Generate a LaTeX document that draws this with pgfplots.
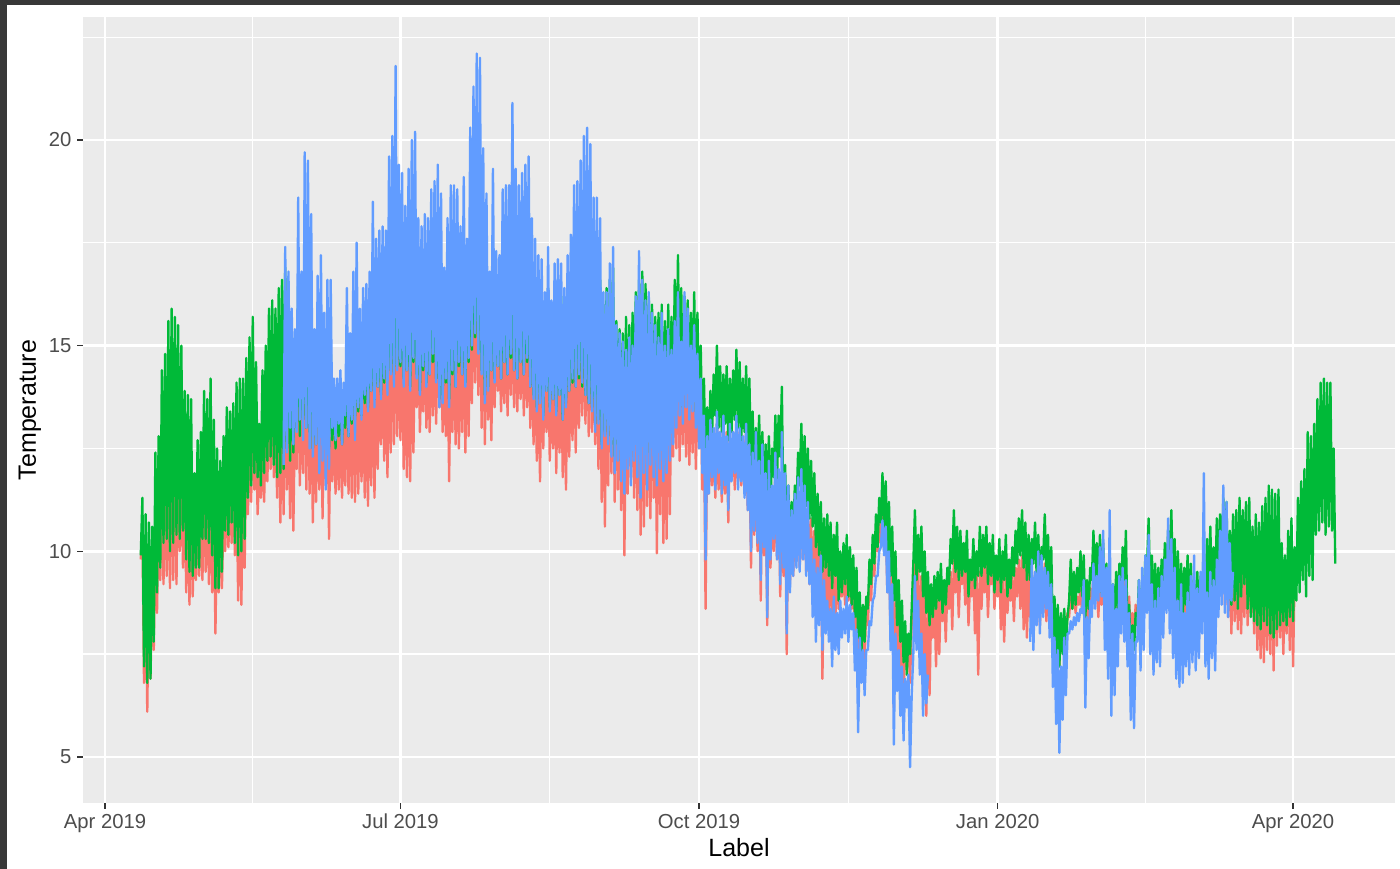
\documentclass[border=0pt]{standalone}
\usepackage{pgfplots}
\pgfplotsset{compat=1.18}
\usepackage{fontspec}
\setmainfont{Liberation Sans}
\definecolor{ggred}{HTML}{F8766D}
\definecolor{gggreen}{HTML}{00BA38}
\definecolor{ggblue}{HTML}{619CFF}
\definecolor{ggpanel}{HTML}{EBEBEB}
\definecolor{ggticklab}{HTML}{4D4D4D}
\definecolor{ggtick}{HTML}{333333}
\definecolor{shotframe}{HTML}{383838}
\begin{document}
\begin{tikzpicture}
\useasboundingbox (0,0) rectangle (504pt,312.84pt);
\fill[shotframe] (0,0) rectangle (504pt,312.84pt);
\fill[white] (2.52pt,0) rectangle (504pt,311.04pt);
\begin{axis}[
  at={(29.88pt,23.76pt)}, anchor=south west,
  scale only axis, width=472.32pt, height=282.96pt,
  xmin=-6.8, xmax=397.4, ymin=3.88, ymax=22.99,
  axis background/.style={fill=ggpanel},
  axis line style={draw=none},
  tick pos=left,
  xtick={0,91,183,275,366},
  xticklabels={Apr 2019,Jul 2019,Oct 2019,Jan 2020,Apr 2020},
  minor xtick={45.5,137,229,320.5},
  ytick={5,10,15,20},
  yticklabels={5,10,15,20},
  minor ytick={7.5,12.5,17.5,22.5},
  grid=both,
  major grid style={white, line width=0.9pt},
  minor grid style={white, line width=0.45pt},
  tick align=outside,
  major tick length=2.16pt,
  minor tick length=0pt,
  tick style={ggtick, line width=0.5pt},
  /pgf/number format/assume math mode=true,
  tick label style={font=\fontsize{7.3}{8.8}\selectfont, text=ggticklab},
  xticklabel style={anchor=north, inner sep=0pt, yshift=-1.6pt},
  yticklabel style={anchor=east, inner sep=0pt, xshift=-1.8pt},
  xlabel={Label}, ylabel={Temperature},
  every axis x label/.style={at={([yshift=-16.2pt]axis description cs:0.5,0)}, anchor=center, font=\fontsize{9}{10.8}\selectfont},
  every axis y label/.style={at={([xshift=-19.1pt]axis description cs:0,0.5)}, anchor=center, rotate=90, font=\fontsize{9}{10.8}\selectfont},
  every axis plot/.append style={line width=0.85pt, line join=round, mark=none},
]
% red series: daily low/high pairs from day 11 (days since 1 Apr 2019)
\addplot[ggred] table[header=false, row sep=\\, x expr=11+0.5*\coordindex, y index=0] {
9.8\\10.6\\6.8\\9.5\\6.1\\9.3\\6.9\\9.2\\7.6\\10.4\\8.5\\10.9\\9.3\\11.8\\9.2\\12.2\\9.4\\12.6\\9.1\\12.9\\
9.3\\12.8\\9.2\\12.6\\10.0\\12.3\\9.6\\11.8\\9.0\\11.6\\8.7\\11.5\\8.9\\10.8\\9.3\\11.0\\9.4\\11.2\\9.3\\11.8\\
9.5\\11.6\\9.2\\11.9\\9.0\\11.3\\8.0\\10.9\\9.0\\10.7\\9.1\\11.0\\10.0\\11.6\\10.1\\11.5\\10.2\\11.7\\9.9\\12.0\\
8.8\\12.1\\8.7\\12.1\\9.6\\12.5\\10.9\\12.9\\11.2\\13.2\\11.5\\12.8\\10.9\\12.0\\11.3\\12.6\\11.2\\13.0\\11.7\\13.6\\
12.0\\13.9\\11.8\\13.6\\11.3\\14.0\\10.7\\14.1\\10.9\\14.3\\11.5\\14.0\\10.8\\13.6\\10.5\\13.4\\12.0\\14.8\\11.6\\14.2\\
11.9\\15.0\\11.5\\15.2\\11.4\\14.6\\10.7\\13.6\\11.2\\14.0\\11.5\\14.3\\10.8\\13.8\\11.6\\14.1\\10.3\\13.9\\11.7\\13.4\\
11.4\\13.3\\11.5\\13.5\\11.3\\13.2\\11.6\\14.2\\11.4\\13.8\\11.3\\14.4\\11.2\\14.7\\11.4\\14.1\\11.7\\14.3\\11.3\\14.2\\
11.1\\14.5\\11.6\\15.2\\11.3\\14.8\\12.0\\15.0\\12.6\\15.1\\12.2\\14.9\\11.8\\15.6\\12.4\\15.8\\12.6\\16.0\\12.8\\15.5\\
12.7\\15.4\\12.0\\15.0\\11.8\\15.3\\11.7\\15.6\\12.4\\15.5\\13.5\\15.0\\12.9\\14.8\\13.4\\15.2\\13.0\\15.0\\12.9\\15.3\\
13.3\\15.5\\13.1\\15.6\\13.5\\15.0\\12.9\\14.6\\12.8\\15.1\\11.7\\15.2\\12.9\\15.4\\12.6\\15.3\\12.5\\15.0\\12.9\\15.5\\
12.4\\15.2\\12.8\\15.9\\13.6\\16.4\\14.1\\17.0\\13.8\\16.8\\13.0\\16.0\\12.6\\15.3\\13.2\\14.9\\12.7\\15.6\\13.5\\15.2\\
13.9\\15.1\\13.4\\15.4\\13.6\\15.5\\13.3\\15.4\\13.8\\15.9\\13.5\\15.6\\13.4\\15.3\\13.7\\15.6\\13.3\\15.7\\13.5\\15.8\\
13.0\\15.3\\12.6\\15.0\\12.2\\14.8\\11.7\\14.9\\12.5\\14.6\\12.9\\15.0\\12.2\\14.5\\12.5\\14.8\\11.9\\14.9\\12.4\\14.8\\
11.8\\14.5\\11.5\\14.9\\12.3\\15.1\\12.7\\15.5\\12.4\\15.6\\13.0\\15.8\\13.3\\16.0\\13.1\\16.2\\12.8\\15.9\\12.9\\15.6\\
12.6\\15.5\\12.0\\15.3\\11.2\\14.8\\10.6\\14.9\\11.6\\15.1\\11.9\\15.3\\11.2\\14.4\\11.5\\14.2\\11.0\\14.0\\9.9\\14.3\\
11.4\\14.1\\11.8\\14.4\\11.3\\14.8\\11.0\\15.0\\10.4\\15.1\\10.6\\14.9\\11.1\\14.6\\10.8\\14.5\\11.3\\14.3\\9.95\\14.4\\
10.9\\14.6\\10.2\\14.2\\10.3\\14.5\\10.9\\14.3\\12.3\\14.9\\12.5\\15.1\\12.2\\14.8\\12.6\\14.7\\12.3\\14.6\\12.1\\14.4\\
12.4\\14.5\\12.0\\14.2\\12.5\\14.0\\11.5\\13.3\\8.6\\12.8\\11.4\\12.7\\11.6\\12.9\\11.3\\13.1\\11.5\\12.9\\11.2\\12.8\\
11.4\\12.9\\10.7\\12.7\\11.8\\12.9\\11.5\\13.0\\11.7\\12.9\\11.6\\12.8\\11.5\\12.9\\11.0\\12.6\\9.6\\12.2\\10.4\\12.4\\
10.0\\12.0\\8.8\\12.1\\9.9\\11.6\\8.2\\11.8\\9.6\\11.3\\10.0\\11.9\\9.8\\11.6\\8.9\\11.8\\9.4\\11.3\\7.5\\11.0\\
9.2\\10.8\\9.4\\11.0\\9.9\\11.4\\9.6\\11.6\\9.8\\11.3\\9.5\\11.0\\9.2\\10.8\\8.8\\10.5\\9.0\\10.3\\8.5\\10.2\\
6.9\\9.8\\8.6\\9.9\\8.4\\9.6\\8.5\\9.4\\8.4\\9.6\\8.6\\9.3\\8.9\\9.5\\8.7\\9.6\\8.8\\9.4\\8.6\\9.2\\
8.0\\8.9\\7.6\\8.6\\6.9\\8.3\\7.4\\8.6\\8.2\\9.3\\8.8\\9.9\\9.4\\10.4\\10.0\\10.7\\10.2\\10.9\\10.0\\10.8\\
9.0\\10.3\\7.8\\9.6\\6.2\\8.8\\7.5\\8.4\\7.0\\8.0\\6.6\\7.7\\7.2\\7.9\\6.8\\8.2\\8.8\\9.9\\8.3\\9.6\\
7.8\\9.4\\7.2\\9.1\\6.0\\8.8\\6.5\\8.6\\7.9\\9.0\\7.2\\8.9\\7.5\\9.1\\8.3\\9.0\\7.8\\9.2\\8.6\\9.5\\
8.1\\9.8\\9.0\\9.7\\8.4\\9.6\\9.2\\9.8\\8.7\\9.7\\8.2\\9.3\\8.9\\9.6\\8.0\\9.4\\7.0\\9.5\\8.6\\9.6\\
9.0\\9.8\\8.4\\9.5\\9.2\\9.8\\8.6\\9.4\\8.9\\9.6\\8.1\\9.3\\7.8\\9.5\\8.5\\9.2\\8.8\\9.4\\8.3\\9.6\\
8.9\\9.8\\8.6\\9.9\\8.1\\9.7\\7.9\\9.5\\8.4\\9.4\\8.0\\9.5\\8.6\\9.6\\8.2\\9.3\\8.5\\9.7\\8.3\\9.4\\
8.6\\9.2\\7.8\\8.6\\7.4\\8.3\\7.2\\8.2\\7.6\\8.4\\7.9\\8.5\\8.4\\9.0\\8.6\\9.0\\8.5\\8.9\\8.7\\9.1\\
8.5\\9.0\\8.3\\9.0\\8.1\\9.1\\8.6\\9.5\\8.8\\9.4\\8.4\\9.3\\8.7\\9.5\\8.3\\9.2\\8.0\\9.0\\8.2\\8.9\\
8.5\\9.1\\8.4\\9.2\\8.8\\9.4\\8.9\\9.6\\7.9\\8.9\\7.6\\8.5\\8.0\\8.7\\8.3\\9.0\\8.2\\9.1\\8.5\\9.3\\
8.9\\9.7\\8.6\\9.4\\8.3\\9.2\\8.2\\9.1\\8.4\\9.3\\8.8\\9.5\\8.9\\9.8\\9.0\\9.9\\8.6\\9.6\\8.4\\9.3\\
8.2\\9.1\\8.1\\9.0\\8.4\\9.2\\8.3\\9.1\\8.0\\8.9\\8.2\\9.2\\8.1\\9.3\\8.4\\9.5\\8.7\\9.8\\8.5\\10.0\\
8.9\\9.9\\8.6\\10.1\\9.0\\10.2\\9.1\\10.4\\8.7\\10.3\\8.4\\10.0\\8.0\\10.2\\8.3\\10.0\\8.1\\10.2\\8.0\\10.0\\
8.4\\10.3\\8.2\\10.1\\8.5\\9.8\\8.0\\10.0\\7.6\\9.8\\7.4\\10.1\\7.3\\10.3\\7.6\\10.4\\7.5\\10.2\\7.1\\10.3\\
7.7\\10.2\\7.9\\9.6\\7.5\\9.4\\8.0\\9.8\\7.6\\10.0\\7.2\\9.6\\
};
% green series
\addplot[gggreen] table[header=false, row sep=\\, x expr=11+0.5*\coordindex, y index=0] {
9.9\\11.3\\7.2\\10.9\\6.8\\10.7\\6.9\\10.6\\7.8\\12.4\\9.0\\12.8\\9.6\\14.4\\10.2\\14.8\\10.3\\15.6\\10.0\\15.9\\
10.2\\15.7\\10.4\\15.5\\10.3\\15.0\\10.5\\13.9\\9.8\\13.8\\9.5\\13.7\\9.4\\11.9\\9.6\\12.7\\9.6\\12.9\\10.3\\13.9\\
10.3\\13.7\\10.2\\14.2\\9.9\\13.2\\9.1\\12.5\\9.1\\12.2\\9.5\\12.8\\10.5\\13.5\\10.4\\13.4\\10.7\\13.6\\10.2\\14.1\\
9.9\\14.2\\10.0\\14.2\\10.3\\14.7\\11.3\\15.2\\11.6\\15.7\\11.9\\14.6\\11.8\\13.1\\11.6\\14.4\\11.9\\15.0\\12.2\\15.9\\
12.3\\16.1\\12.1\\15.9\\11.8\\16.4\\11.9\\16.6\\12.0\\16.9\\12.5\\16.3\\12.2\\15.4\\12.4\\15.0\\13.0\\16.5\\12.8\\15.8\\
13.2\\16.4\\13.0\\16.6\\12.9\\16.0\\12.5\\14.8\\12.6\\15.3\\12.8\\15.6\\12.6\\14.9\\12.9\\15.2\\12.5\\15.0\\12.7\\14.0\\
12.5\\13.9\\12.8\\14.1\\12.6\\13.9\\13.0\\15.0\\12.8\\14.6\\13.1\\15.2\\13.2\\15.6\\13.4\\15.0\\13.3\\15.4\\13.6\\15.5\\
13.5\\15.7\\13.9\\16.3\\13.7\\15.9\\14.0\\16.0\\13.8\\15.9\\14.1\\15.8\\14.2\\16.6\\14.4\\16.9\\14.3\\17.2\\14.5\\16.8\\
14.5\\16.9\\14.2\\16.5\\14.4\\17.0\\14.0\\17.3\\14.6\\17.1\\14.3\\16.4\\13.9\\16.2\\14.4\\16.6\\14.1\\16.5\\14.3\\16.9\\
14.6\\17.0\\14.2\\17.2\\13.7\\16.6\\13.8\\15.9\\14.1\\16.5\\13.7\\16.8\\14.3\\17.0\\14.0\\16.9\\14.5\\16.6\\14.3\\17.1\\
14.1\\16.7\\14.6\\17.6\\14.9\\18.0\\15.2\\18.5\\14.9\\18.4\\14.4\\17.5\\13.8\\16.9\\14.0\\16.2\\14.4\\17.2\\14.2\\16.6\\
14.5\\16.5\\14.2\\17.0\\14.6\\17.1\\14.3\\17.0\\14.7\\17.6\\14.4\\17.2\\14.2\\16.9\\14.6\\17.2\\14.3\\17.3\\14.6\\17.4\\
14.0\\16.8\\13.8\\16.5\\13.5\\16.2\\13.7\\16.3\\13.3\\15.9\\13.9\\16.4\\13.5\\15.8\\13.7\\16.2\\13.4\\16.3\\13.8\\16.2\\
13.2\\15.9\\13.6\\16.4\\13.9\\16.6\\14.1\\17.2\\14.0\\17.3\\14.2\\17.4\\14.0\\17.6\\13.8\\17.5\\13.6\\17.2\\13.5\\16.9\\
13.1\\16.8\\13.2\\16.6\\12.6\\16.0\\12.9\\16.4\\12.8\\16.6\\12.6\\16.9\\12.3\\15.6\\12.6\\15.4\\12.2\\15.3\\12.0\\15.7\\
12.5\\15.5\\12.3\\15.8\\12.8\\16.3\\12.5\\16.6\\12.2\\16.8\\12.7\\16.5\\12.4\\16.2\\12.8\\16.0\\12.6\\15.7\\12.4\\15.8\\
12.9\\16.0\\12.6\\15.6\\12.8\\16.0\\13.0\\15.7\\13.3\\16.6\\13.6\\17.2\\13.8\\16.4\\13.5\\16.2\\13.9\\16.1\\13.6\\15.8\\
13.8\\16.3\\13.4\\15.8\\13.6\\15.0\\12.8\\14.2\\12.1\\13.5\\12.5\\13.9\\12.8\\14.3\\13.3\\15.0\\13.0\\14.5\\12.9\\14.3\\
13.1\\14.5\\12.7\\14.2\\12.9\\14.4\\13.2\\14.9\\13.0\\14.6\\12.7\\14.2\\12.9\\14.5\\12.6\\14.2\\12.0\\13.4\\11.6\\13.0\\
11.9\\13.3\\11.5\\12.9\\11.2\\12.6\\11.4\\12.8\\11.1\\12.5\\11.8\\13.3\\11.7\\13.3\\12.3\\14.0\\10.7\\12.1\\10.3\\11.6\\
10.0\\11.2\\10.3\\11.6\\11.0\\12.4\\11.6\\13.1\\11.4\\12.8\\11.1\\12.5\\10.8\\12.2\\10.6\\11.9\\10.1\\11.4\\9.9\\11.2\\
9.5\\10.8\\9.6\\10.9\\9.4\\10.7\\9.1\\10.4\\9.4\\10.7\\8.8\\10.0\\9.0\\10.2\\9.2\\10.4\\8.9\\10.1\\8.7\\9.9\\
8.4\\9.6\\7.9\\9.0\\7.5\\8.7\\7.8\\8.9\\8.6\\9.8\\9.2\\10.4\\9.7\\10.9\\10.1\\11.3\\10.7\\11.9\\10.5\\11.7\\
10.0\\11.2\\9.4\\10.6\\8.8\\10.0\\8.2\\9.3\\7.8\\8.8\\7.3\\8.3\\7.0\\8.0\\7.5\\8.6\\9.7\\11.0\\9.3\\10.4\\
9.5\\10.6\\8.9\\10.0\\8.5\\9.5\\8.2\\9.2\\8.4\\9.4\\8.6\\9.5\\8.8\\9.7\\8.5\\9.3\\8.7\\9.6\\9.2\\10.3\\
9.7\\11.0\\9.5\\10.6\\9.3\\10.5\\9.4\\10.2\\9.5\\10.5\\8.9\\9.8\\9.3\\10.3\\9.1\\10.0\\9.4\\10.6\\9.4\\10.4\\
9.6\\10.6\\9.2\\10.2\\9.4\\10.4\\9.0\\9.9\\9.3\\10.3\\9.0\\10.0\\9.3\\10.4\\8.9\\9.8\\9.1\\10.1\\9.4\\10.5\\
9.7\\10.8\\9.9\\11.0\\9.6\\10.7\\9.3\\10.4\\9.3\\10.3\\9.7\\10.7\\9.4\\10.4\\9.1\\10.1\\9.8\\10.9\\9.4\\10.4\\
8.9\\10.1\\7.8\\8.9\\7.4\\8.7\\7.2\\8.5\\7.5\\8.6\\7.7\\8.4\\8.8\\9.8\\8.6\\9.5\\8.7\\9.6\\9.0\\10.0\\
8.9\\9.9\\8.4\\9.3\\8.6\\9.6\\9.3\\10.5\\9.0\\10.2\\9.2\\10.4\\9.0\\10.2\\8.6\\9.7\\8.3\\9.4\\8.1\\9.2\\
8.4\\9.5\\8.6\\9.7\\9.0\\10.1\\9.3\\10.5\\7.8\\8.7\\7.4\\8.2\\7.6\\8.5\\8.2\\9.3\\8.0\\9.1\\8.8\\9.9\\
9.6\\10.8\\8.8\\9.9\\8.6\\9.7\\8.5\\9.6\\8.7\\9.8\\9.0\\10.2\\9.3\\10.5\\9.7\\11.0\\9.1\\10.3\\8.8\\10.0\\
8.5\\9.7\\8.4\\9.6\\8.7\\9.9\\8.5\\9.7\\8.1\\9.3\\8.3\\9.5\\8.2\\9.4\\8.5\\9.7\\8.8\\10.3\\8.7\\10.6\\
8.9\\10.1\\9.0\\10.8\\9.2\\10.9\\9.4\\11.3\\9.0\\11.2\\8.8\\10.5\\8.7\\10.9\\8.8\\11.0\\8.6\\11.3\\8.9\\11.0\\
9.2\\11.2\\8.6\\11.3\\8.4\\10.6\\8.3\\10.9\\8.2\\10.7\\8.1\\11.1\\8.3\\11.3\\8.2\\11.6\\8.0\\11.5\\7.9\\11.4\\
8.1\\11.5\\8.2\\10.2\\8.3\\9.9\\8.2\\10.5\\8.4\\10.8\\8.3\\10.1\\8.8\\11.3\\9.0\\11.7\\9.3\\12.0\\8.9\\12.9\\
9.4\\12.8\\9.3\\13.1\\10.4\\13.7\\10.5\\14.1\\10.7\\14.2\\10.4\\14.1\\10.6\\14.1\\10.5\\12.5\\9.7\\
};
% blue series, first stretch (day 55 to day 253)
\addplot[ggblue] table[header=false, row sep=\\, x expr=55+0.5*\coordindex, y index=0] {
12.1\\17.4\\12.4\\16.8\\13.0\\15.9\\12.6\\15.4\\12.9\\18.6\\13.2\\16.8\\
12.7\\19.7\\13.0\\19.5\\12.5\\18.2\\12.3\\15.4\\12.6\\16.7\\11.9\\17.2\\12.2\\15.8\\11.5\\16.6\\12.0\\16.6\\13.0\\14.2\\
12.7\\14.2\\13.1\\14.4\\12.6\\14.1\\13.3\\16.4\\12.8\\15.3\\13.2\\16.8\\12.7\\17.5\\13.5\\15.9\\13.2\\16.4\\13.8\\16.5\\
13.4\\16.8\\13.9\\18.5\\13.5\\17.6\\14.0\\17.8\\13.7\\17.9\\14.2\\17.8\\13.8\\19.6\\14.3\\20.1\\14.0\\21.8\\14.4\\19.4\\
14.6\\19.2\\14.0\\18.4\\14.4\\19.3\\13.9\\20.0\\14.7\\20.2\\14.2\\18.1\\13.8\\17.9\\14.5\\18.2\\14.0\\18.1\\14.3\\18.8\\
14.8\\19.0\\14.1\\19.4\\13.5\\18.7\\13.6\\16.9\\14.2\\18.1\\13.5\\18.9\\14.4\\18.9\\14.0\\18.8\\14.6\\17.9\\14.3\\19.1\\
14.0\\17.6\\14.7\\20.3\\15.0\\21.3\\15.3\\22.1\\14.8\\22.0\\14.3\\19.8\\13.6\\18.7\\13.9\\16.8\\14.4\\19.3\\14.1\\17.3\\
14.5\\17.2\\14.2\\18.8\\14.6\\18.9\\14.3\\18.9\\14.8\\20.9\\14.4\\19.3\\14.2\\18.9\\14.6\\19.2\\14.3\\19.4\\14.7\\19.6\\
14.0\\18.1\\13.7\\17.6\\13.4\\17.2\\13.6\\17.1\\13.2\\16.3\\13.9\\17.4\\13.4\\16.1\\13.7\\17.0\\13.3\\17.1\\13.8\\17.0\\
13.2\\16.4\\13.5\\17.2\\13.9\\17.7\\14.2\\18.9\\14.0\\19.0\\14.3\\19.5\\14.1\\20.1\\13.8\\20.3\\13.6\\19.9\\13.4\\18.6\\
12.9\\18.6\\13.1\\18.1\\12.5\\16.3\\12.8\\16.3\\12.6\\17.0\\12.3\\17.4\\11.9\\15.5\\12.2\\15.3\\11.7\\15.1\\11.4\\14.9\\
12.0\\15.2\\11.6\\15.0\\12.2\\16.2\\11.8\\17.3\\11.3\\16.6\\11.9\\16.1\\11.5\\16.3\\12.1\\15.8\\11.8\\15.5\\11.6\\15.2\\
12.0\\15.8\\11.7\\15.0\\11.9\\15.4\\12.2\\14.9\\12.6\\15.6\\13.0\\16.3\\13.3\\15.1\\13.1\\16.3\\13.5\\15.9\\13.2\\15.0\\
13.4\\15.5\\13.0\\14.8\\12.5\\14.2\\11.9\\13.3\\9.8\\12.8\\11.4\\13.2\\11.8\\13.0\\11.5\\13.4\\11.9\\12.9\\11.4\\13.3\\
11.6\\12.8\\11.0\\13.1\\11.7\\12.9\\11.9\\13.3\\11.5\\13.0\\11.7\\12.8\\11.3\\13.1\\11.0\\12.6\\10.0\\12.4\\10.5\\12.9\\
10.2\\12.2\\9.3\\12.6\\10.1\\11.9\\8.4\\12.2\\9.8\\11.6\\10.3\\12.4\\9.8\\12.0\\9.2\\12.9\\9.6\\11.9\\8.0\\11.6\\
9.0\\11.0\\9.4\\11.4\\9.6\\11.8\\9.5\\12.0\\9.8\\11.6\\9.4\\11.2\\9.2\\10.3\\8.4\\9.8\\7.8\\9.6\\8.2\\9.9\\
7.6\\9.3\\8.0\\8.8\\7.8\\8.6\\7.2\\8.9\\7.6\\8.5\\7.5\\8.8\\7.9\\8.6\\8.0\\8.9\\7.8\\8.7\\8.1\\8.5\\
7.1\\8.1\\5.6\\7.9\\6.8\\7.6\\6.5\\7.6\\7.6\\8.3\\8.2\\8.8\\8.9\\9.4\\9.4\\10.0\\10.1\\10.75\\9.9\\10.6\\
9.0\\10.0\\7.6\\9.2\\5.3\\8.0\\6.6\\7.6\\6.0\\7.2\\5.4\\6.9\\6.2\\7.0\\4.75\\6.5\\7.5\\9.4\\7.6\\8.8\\
7.0\\8.0\\6.0\\7.5\\6.3\\7.0\\
};
% blue series, second stretch (day 285 to day 347)
\addplot[ggblue] table[header=false, row sep=\\, x expr=285+0.5*\coordindex, y index=0] {
7.8\\9.8\\7.6\\9.5\\8.2\\10.0\\8.0\\9.9\\8.4\\9.6\\8.6\\9.5\\
7.9\\9.2\\6.7\\7.9\\5.8\\7.6\\5.1\\7.2\\5.9\\7.9\\6.5\\8.0\\8.0\\8.3\\8.1\\8.4\\8.2\\8.5\\8.3\\8.6\\
8.5\\9.3\\6.2\\8.4\\7.4\\8.8\\8.4\\9.7\\8.6\\9.4\\8.8\\10.1\\8.9\\10.5\\7.6\\9.6\\6.9\\11.0\\6.0\\9.2\\
6.5\\8.6\\7.2\\9.4\\8.0\\9.6\\7.8\\9.3\\7.2\\8.5\\5.9\\8.0\\5.7\\7.8\\7.8\\9.3\\7.1\\9.6\\7.6\\9.9\\
8.5\\10.4\\7.5\\9.2\\7.0\\8.8\\7.3\\9.1\\7.2\\9.4\\7.9\\9.8\\8.5\\10.8\\8.0\\10.3\\7.4\\9.6\\6.9\\8.8\\
6.7\\9.2\\6.8\\8.5\\7.2\\9.0\\7.0\\9.4\\7.3\\9.9\\7.1\\9.1\\7.4\\9.5\\8.0\\11.9\\7.2\\9.0\\6.9\\9.5\\
7.4\\9.3\\7.1\\9.8\\8.4\\10.5\\8.7\\11.6\\8.5\\11.2\\8.4\\10.2\\8.8\\9.5\\
};
\end{axis}
\end{tikzpicture}
\end{document}
